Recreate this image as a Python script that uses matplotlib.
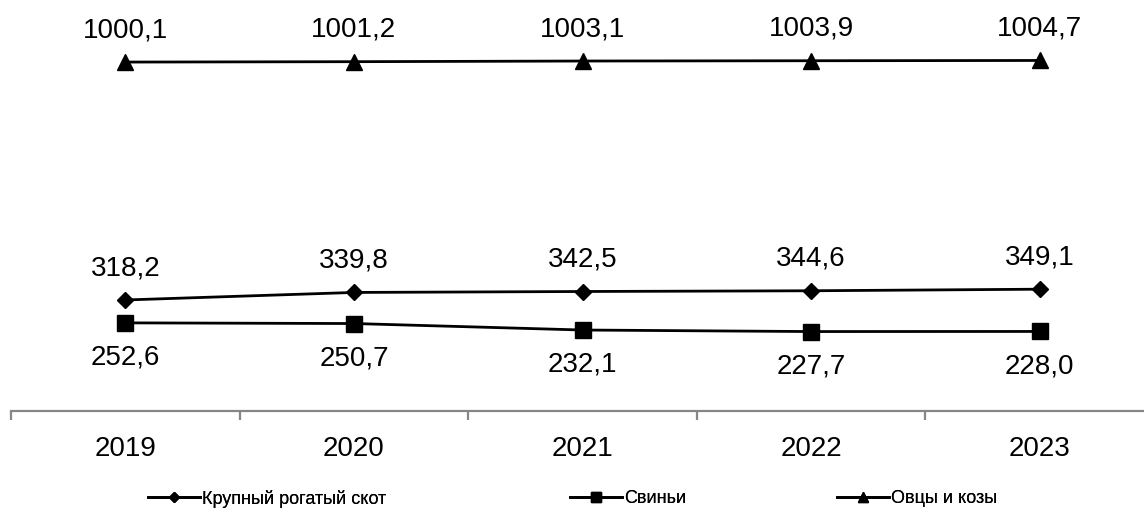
import numpy as np
import matplotlib
matplotlib.use("Agg")
import matplotlib.pyplot as plt
from matplotlib.lines import Line2D

plt.rcParams["font.family"] = ["Liberation Sans", "DejaVu Sans"]

years = ["2019", "2020", "2021", "2022", "2023"]
cattle = [318.2, 339.8, 342.5, 344.6, 349.1]
pigs = [252.6, 250.7, 232.1, 227.7, 228.0]
sheep = [1000.1, 1001.2, 1003.1, 1003.9, 1004.7]
names = ["Крупный рогатый скот", "Свиньи", "Овцы и козы"]

W, H = 1144, 516
fig = plt.figure(figsize=(W / 100, H / 100), dpi=100)
ax = fig.add_axes([11 / W, (H - 411) / H, 1143 / W, 411 / H])
x = np.arange(len(years))

# values, marker, size, label offset (points)
series = [(cattle, "D", 8.5, 23), (pigs, "s", 11, -25), (sheep, "^", 11, 23)]
handles = []
for vals, mk, ms, off in series:
    h, = ax.plot(x, vals, color="black", lw=2, marker=mk, ms=ms, clip_on=False)
    handles.append(h)
    for xi, v in zip(x, vals):
        ax.annotate(f"{v:.1f}".replace(".", ","), (xi, v), xytext=(0, off),
                    textcoords="offset points", ha="center", va="center", fontsize=20)

ax.set_xlim(-0.5, 4.5)
ax.set_ylim(0, 1178)
for s in ["top", "right", "left"]:
    ax.spines[s].set_visible(False)
ax.spines["bottom"].set_color("#868686")
ax.spines["bottom"].set_linewidth(1.6)
ax.set_yticks([])
ax.set_xticks(x)
ax.set_xticklabels(years, fontsize=20)
ax.tick_params(axis="x", which="major", length=0, pad=18)
ax.set_xticks(np.arange(-0.5, 5, 1), minor=True)
ax.tick_params(axis="x", which="minor", length=6.5, width=1.6, color="#868686")

# legend entries laid out like the original (three separate boxes)
lx = [148, 570, 837]
for h, name, px in zip(handles, names, lx):
    proxy = Line2D([], [], color="black", lw=2, marker=h.get_marker(),
                   ms=h.get_markersize() * 0.65)
    lg = fig.legend([proxy], [name], loc="center left",
                    bbox_to_anchor=(px / W, (H - 498.5) / H), frameon=False,
                    fontsize=13, handlelength=2.9, handletextpad=0.1,
                    borderpad=0, borderaxespad=0)
    fig.add_artist(lg)

fig.savefig("out.png", dpi=100)
